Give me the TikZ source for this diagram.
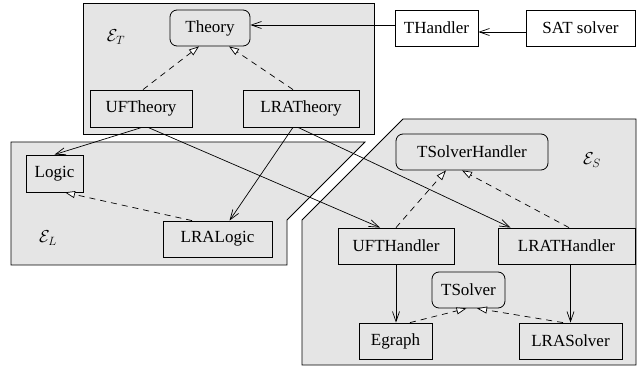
\documentclass[tikz,border=0pt]{standalone}
\usepackage{fontspec}
\setmainfont{Liberation Serif}
\usetikzlibrary{arrows.meta}
\tikzset{
  region/.style={draw=black, fill=black!10, line width=0.8pt},
  box/.style={draw=black, line width=0.8pt, inner sep=0pt, font=\fontsize{17}{20}\selectfont},
  rbox/.style={box, rounded corners=7pt},
  uses/.style={line width=0.7pt, -{Straight Barb[length=10pt,width=7pt]}},
  isa/.style={line width=0.7pt, dash pattern=on 6pt off 5pt, -{Triangle[length=10pt,width=7pt,fill=white]}},
  lbl/.style={font=\fontsize{17}{20}\selectfont}
}
\begin{document}
\begin{tikzpicture}[x=1pt,y=-1pt]
\useasboundingbox (0,0) rectangle (637,371);
% regions
\draw[region] (83,3) rectangle (374,134);
\draw[region] (11,142) -- (365,142) -- (287,220) -- (287,265) -- (11,265) -- cycle;
\draw[region] (403,119) -- (636,119) -- (636,365) -- (302,365) -- (302,220) -- cycle;
\node[lbl] (ET) at (116,37) {$\mathcal{E}_T$};
\node[lbl] (EL) at (48,238) {$\mathcal{E}_L$};
\node[lbl] (ES) at (592,160) {$\mathcal{E}_S$};
% nodes
\node[rbox, minimum width=80pt, minimum height=36pt] (Theory) at (210,28) {Theory};
\node[box, minimum width=83pt, minimum height=36pt] (THandler) at (436.5,28) {THandler};
\node[box, minimum width=109pt, minimum height=36pt] (SAT) at (580.5,28) {SAT solver};
\node[box, minimum width=102pt, minimum height=37pt] (UFTheory) at (141,108.5) {UFTheory};
\node[box, minimum width=116pt, minimum height=37pt] (LRATheory) at (301,108.5) {LRATheory};
\node[box, minimum width=57pt, minimum height=37pt] (Logic) at (54.5,173.5) {Logic};
\node[box, minimum width=109pt, minimum height=36pt] (LRALogic) at (217.5,239) {LRALogic};
\node[rbox, minimum width=152pt, minimum height=36pt] (TSH) at (472,152) {TSolverHandler};
\node[box, minimum width=116pt, minimum height=36pt] (UFTH) at (396,246) {UFTHandler};
\node[box, minimum width=137pt, minimum height=36pt] (LRATH) at (566.5,246) {LRATHandler};
\node[rbox, minimum width=73pt, minimum height=36pt] (TSolver) at (468.5,290) {TSolver};
\node[box, minimum width=73pt, minimum height=36pt] (Egraph) at (395.5,341) {Egraph};
\node[box, minimum width=103pt, minimum height=36pt] (LRASolver) at (570.5,341) {LRASolver};
% solid uses arrows
\draw[uses] ([yshift=-4pt]SAT.west) -- ([yshift=-4pt]THandler.east);
\draw[uses] ([yshift=3pt]THandler.west) -- ([yshift=3pt]Theory.east);
\draw[uses] ([xshift=1pt]UFTheory.south) -- (Logic.north);
\draw[uses] ([xshift=7pt]UFTheory.south) -- ([xshift=-16pt]UFTH.north);
\draw[uses] ([xshift=-8pt]LRATheory.south) -- ([xshift=12pt]LRALogic.north);
\draw[uses] ([xshift=-3pt]LRATheory.south) -- ([xshift=-56pt]LRATH.north);
\draw[uses] (UFTH.south) -- (UFTH.south |- Egraph.north);
\draw[uses] (LRASolver.north |- LRATH.south) -- (LRASolver.north);
% dashed inheritance arrows
\draw[isa] ([xshift=2pt]UFTheory.north) -- ([xshift=-11pt]Theory.south);
\draw[isa] ([xshift=-8pt]LRATheory.north) -- ([xshift=19pt]Theory.south);
\draw[isa] ([xshift=-25.5pt]LRALogic.north) -- ([xshift=10.5pt]Logic.south);
\draw[isa] (UFTH.north) -- ([xshift=-26pt]TSH.south);
\draw[isa] ([xshift=2.5pt]LRATH.north) -- ([xshift=-10pt]TSH.south);
\draw[isa] ([xshift=14.5pt]Egraph.north) -- ([xshift=-2pt]TSolver.south);
\draw[isa] ([xshift=-7.5pt]LRASolver.north) -- ([xshift=8.5pt]TSolver.south);
\end{tikzpicture}
\end{document}
